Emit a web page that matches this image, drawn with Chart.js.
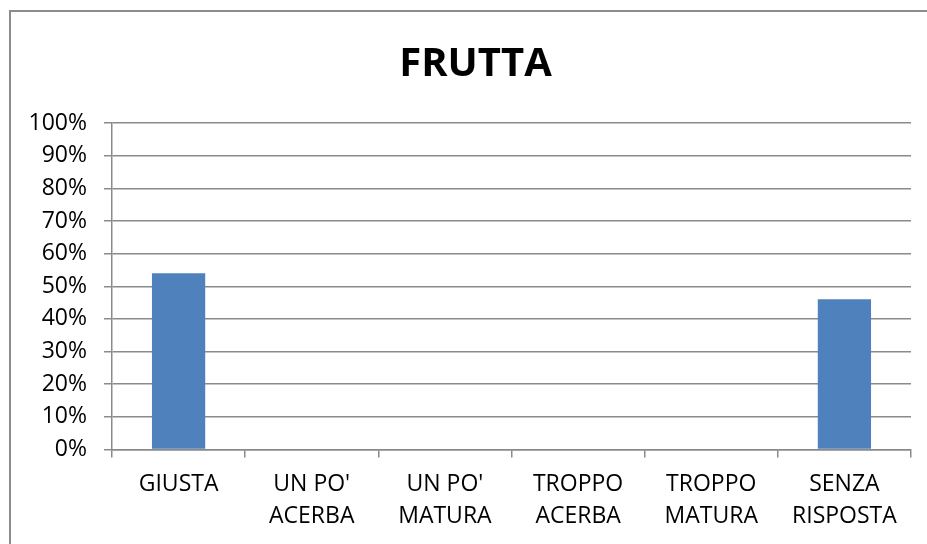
<!DOCTYPE html>
<html lang="it">
<head>
<title>FRUTTA</title>
<script src="https://cdn.jsdelivr.net/npm/chart.js@4/dist/chart.umd.min.js"></script>
<style>
    html, body { margin: 0; padding: 0; background: #fff; overflow: hidden; }
    #wrap { width: 927px; height: 544px; position: relative; }
</style>
</head>
<body>
<div id="wrap"><canvas id="chart-0" width="927" height="544"></canvas></div>
<script>
    var categories = [["GIUSTA"], ["UN PO'", "ACERBA"], ["UN PO'", "MATURA"], ["TROPPO", "ACERBA"], ["TROPPO", "MATURA"], ["SENZA", "RISPOSTA"]];
    var values = [54, 0, 0, 0, 0, 46];
    var yTicks = [0, 10, 20, 30, 40, 50, 60, 70, 80, 90, 100];
    var chartTitle = "FRUTTA";

    var fontName = "'Open Sans', 'DejaVu Sans', sans-serif";
    var gridColor = "#8a8a8a";

    // outer frame of the chart object (left and top edges only visible)
    var framePlugin = {
        id: 'frame',
        afterLayout: function(chart) {
            // let the y labels use the space left of the axis box (no clipping)
            chart.scales.y.left = 0;
        },
        afterDraw: function(chart) {
            var ctx = chart.ctx;
            ctx.save();
            ctx.strokeStyle = "#8c8c8c";
            ctx.lineWidth = 2;
            ctx.strokeRect(10, 11, 1000, 700);
            ctx.restore();
        }
    };

    var chart = new Chart('chart-0', {
        type: 'bar',
        data: {
            labels: categories,
            datasets: [{
                data: values,
                backgroundColor: '#4f81bd',
                borderWidth: 0,
                barPercentage: 0.4,
                categoryPercentage: 1
            }]
        },
        options: {
            responsive: false,
            animation: false,
            layout: { padding: { left: 40, right: 16, top: 10, bottom: 0 } },
            plugins: {
                legend: { display: false },
                tooltip: { enabled: false },
                title: {
                    display: true,
                    text: chartTitle,
                    color: '#000',
                    font: { family: fontName, size: 40, weight: 'bold', lineHeight: 1.2 },
                    padding: { top: 31, bottom: 34 }
                }
            },
            scales: {
                x: {
                    offset: true,
                    grid: {
                        offset: true,
                        drawOnChartArea: false,
                        drawTicks: true,
                        tickLength: 8,
                        color: gridColor,
                        lineWidth: 1.5
                    },
                    border: { color: gridColor, width: 1.5 },
                    ticks: {
                        color: '#000',
                        font: { family: fontName, size: 23, lineHeight: 1.38 },
                        padding: 11.5,
                        maxRotation: 0,
                        autoSkip: false
                    }
                },
                y: {
                    min: 0,
                    max: 100,
                    afterBuildTicks: function(scale) {
                        scale.ticks = yTicks.map(function(v) { return { value: v }; });
                    },
                    afterFit: function(scale) { scale.width = 72; },
                    grid: {
                        color: gridColor,
                        lineWidth: 1.5,
                        tickLength: 8
                    },
                    border: { color: gridColor, width: 1.5 },
                    ticks: {
                        color: '#000',
                        font: { family: fontName, size: 23 },
                        padding: 17,
                        callback: function(v) { return v + '%'; }
                    }
                }
            }
        },
        plugins: [framePlugin]
    });
</script>
</body>
</html>
